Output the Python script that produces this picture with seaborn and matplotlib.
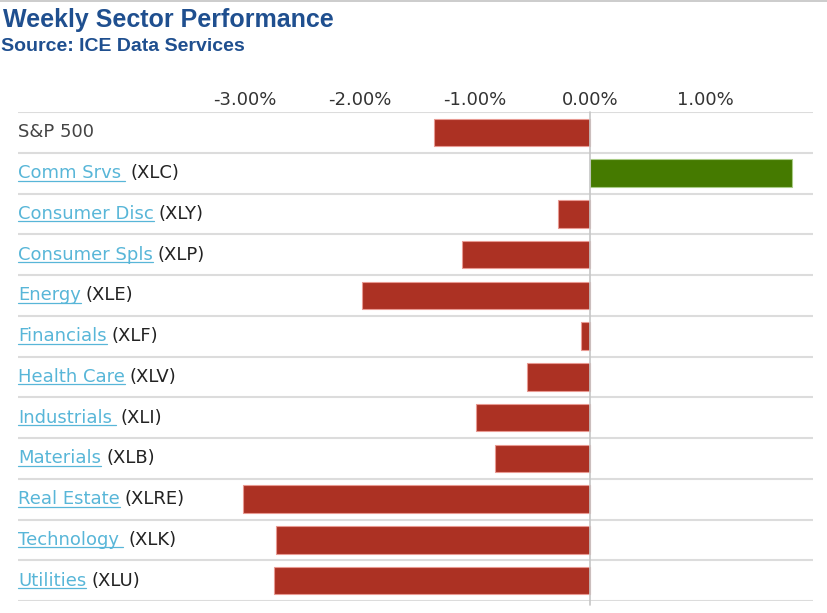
import numpy as np
import pandas as pd
import matplotlib
matplotlib.use("Agg")
import matplotlib.pyplot as plt
from matplotlib.lines import Line2D
from matplotlib.ticker import FuncFormatter
import seaborn as sns

# data
sectors = ["S&P 500", "Comm Srvs ", "Consumer Disc", "Consumer Spls", "Energy",
           "Financials", "Health Care", "Industrials ", "Materials",
           "Real Estate", "Technology ", "Utilities"]
tickers = ["", "(XLC)", "(XLY)", "(XLP)", "(XLE)", "(XLF)", "(XLV)", "(XLI)",
           "(XLB)", "(XLRE)", "(XLK)", "(XLU)"]
weekly_pct = [-1.36, 1.76, -0.28, -1.11, -1.98, -0.08, -0.55, -0.99, -0.83,
              -3.02, -2.73, -2.75]
xtick_vals = [-3, -2, -1, 0, 1]

RED = "#ac3123"
GREEN = "#457a00"
LINK = "#58b6d8"
DARK = "#333333"

sns.set_theme(style="white")
plt.rcParams["font.family"] = ["DejaVu Sans"]

df = pd.DataFrame({"sector": sectors, "pct": weekly_pct})
df["sign"] = np.where(df["pct"] >= 0, "up", "down")

W, H = 828, 613
fig = plt.figure(figsize=(W / 100, H / 100), dpi=100)
ax = fig.add_axes([18 / W, 12 / H, 795 / W, 489 / H])

sns.barplot(data=df, x="pct", y="sector", hue="sign", orient="h",
            palette={"up": GREEN, "down": RED}, dodge=False, legend=False,
            width=0.67, saturation=1, ax=ax, order=sectors)

for p in ax.patches:
    fc = p.get_facecolor()
    edge = "#e89a92" if fc[0] > fc[1] else "#a9cc86"
    p.set_edgecolor(edge)
    p.set_linewidth(0.8)

ax.set_xlim((18 - 590) / 115, (813 - 590) / 115)
ax.set_ylim(len(sectors) - 0.5, -0.5)
ax.set_xlabel("")
ax.set_ylabel("")
ax.set_yticks([])
ax.set_xticks(xtick_vals)
ax.xaxis.set_major_formatter(FuncFormatter(lambda v, _: f"{v:.2f}%"))
ax.xaxis.tick_top()
ax.tick_params(axis="x", length=0, pad=2, labelsize=13, labelcolor=DARK)
for s in ax.spines.values():
    s.set_visible(False)
ax.grid(False)

# row separators and zero line
for k in range(len(sectors) + 1):
    ax.axhline(k - 0.5, color="#dcdcdc", lw=1.5, zorder=0)
ax.axvline(0, ymin=-0.008, ymax=1, color="#c6c6c6", lw=1.2, zorder=3,
           clip_on=False)

# row labels
lbl_trans = ax.get_yaxis_transform()
link_texts = []
for i, (name, tk) in enumerate(zip(sectors, tickers)):
    if tk == "":
        ax.text(0, i + 0.12, name, transform=lbl_trans, ha="left",
                va="baseline", fontsize=13, color="#444444")
        continue
    t = ax.text(0, i + 0.12, name.rstrip(), transform=lbl_trans, ha="left",
                va="baseline", fontsize=13, color=LINK)
    link_texts.append((i, name, tk, t))

fig.canvas.draw()
r = fig.canvas.get_renderer()
inv = fig.transFigure.inverted()
for i, name, tk, t in link_texts:
    bb = t.get_window_extent(r)
    x1 = bb.x1 + (4 if name.endswith(" ") else 0)
    base_y = ax.transData.transform((0, i + 0.12))[1]
    (fx0, fy), (fx1, _) = inv.transform([(bb.x0, base_y - 2.5), (x1, base_y - 2.5)])
    fig.add_artist(Line2D([fx0, fx1], [fy, fy], color=LINK, lw=0.9))
    tx, ty = inv.transform((x1 + 5, base_y))
    fig.text(tx, ty, tk, ha="left", va="baseline", fontsize=13, color="#222222")

# titles and top border
fig.text(3 / W, 1 - 27 / H, "Weekly Sector Performance", fontsize=18,
         fontweight="bold", color="#1f4f8f", family="Liberation Sans",
         va="baseline")
fig.text(1 / W, 1 - 51 / H, "Source: ICE Data Services", fontsize=14,
         fontweight="bold", color="#1f4f8f", family="Liberation Sans",
         va="baseline")
fig.add_artist(Line2D([0, 1], [1 - 0.8 / H, 1 - 0.8 / H], color="#c4c4c4", lw=1.2))

fig.savefig("out.png", dpi=100)
